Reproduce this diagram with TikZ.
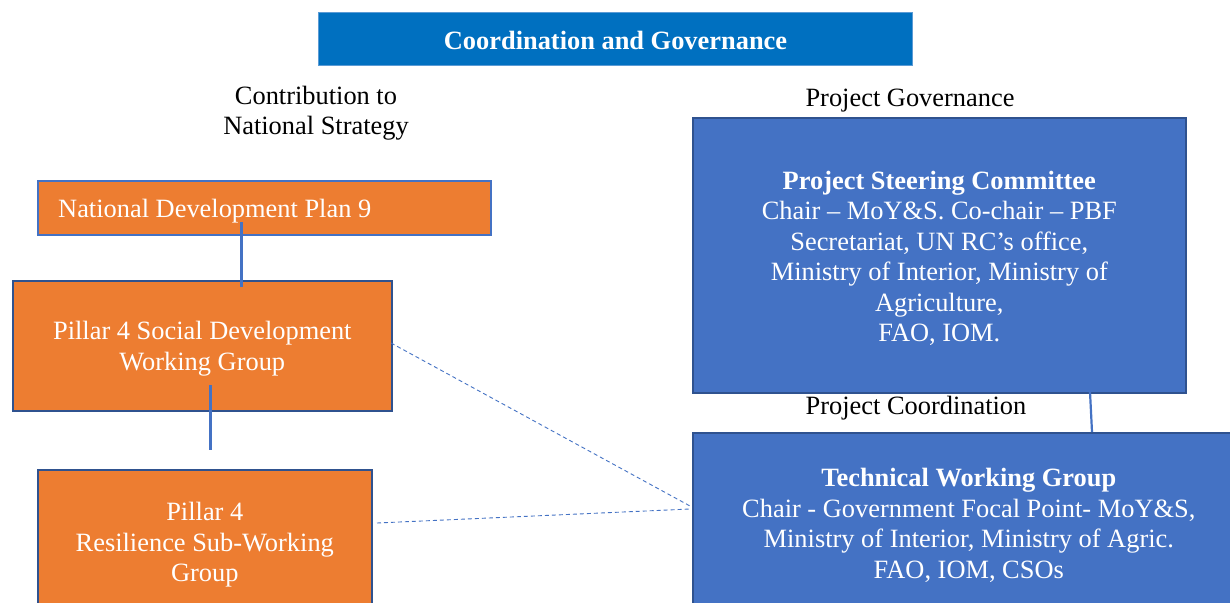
\documentclass[tikz,border=0pt]{standalone}
\usepackage{fontspec}
\setmainfont{Liberation Serif}
\definecolor{orng}{HTML}{ED7D31}
\definecolor{bl}{HTML}{4472C4}
\definecolor{dbl}{HTML}{2F528F}
\definecolor{ttl}{HTML}{0070C0}
\definecolor{ttlb}{HTML}{5B9BD5}
\begin{document}
\begin{tikzpicture}[x=1pt,y=-1pt,
  txt/.style={font=\fontsize{26.4}{30.5}\selectfont, align=center, inner sep=0pt},
  wtxt/.style={txt, text=white},
  obox/.style={draw=dbl, line width=1.6pt, fill=orng, anchor=north west, inner sep=0pt},
  bbox/.style={draw=dbl, line width=1.6pt, fill=bl, anchor=north west, inner sep=0pt},
  solidlink/.style={draw=bl, line width=3pt},
  dashlink/.style={draw=bl, line width=0.9pt, dash pattern=on 4pt off 3pt}]
\path[use as bounding box, clip] (0,0) rectangle (1230,602);
\fill[white] (0,0) rectangle (1230,602);
% title
\node[txt, draw=ttlb, line width=1pt, fill=ttl, text=white, font=\fontsize{26.4}{30.5}\selectfont\bfseries,
  minimum width=594pt, minimum height=53pt, anchor=north west] (title) at (318,12) {};
\node[wtxt, font=\fontsize{26.4}{30.5}\selectfont\bfseries] (titletext) at ([yshift=-1.5pt]title.center) {Coordination and Governance};
% headings
\node[txt] (contrib) at (316,113) {Contribution to\\National Strategy};
\node[txt] (gov) at (910,101) {Project Governance};
\node[txt] (coord) at (916,408) {Project Coordination};
% left boxes
\node[obox, draw=bl, minimum width=453pt, minimum height=54pt] (ndp) at (37,180) {};
\node[wtxt, anchor=west] (ndptext) at (58,211) {National Development Plan 9};
\node[obox, minimum width=379pt, minimum height=130pt] (soc) at (12,280) {};
\node[wtxt] (soctext) at ([yshift=-3pt]soc.center) {Pillar 4 Social Development\\Working Group};
\node[obox, minimum width=334pt, minimum height=144pt] (res) at (37,469) {};
\node[wtxt] (restext) at ([yshift=-3pt]res.center) {Pillar 4\\Resilience Sub-Working\\Group};
% right boxes
\node[bbox, minimum width=493pt, minimum height=275pt] (psc) at (692,117) {};
\node[wtxt] (psctext) at ([yshift=-3pt]psc.center) {\textbf{Project Steering Committee}\\Chair -- MoY\&S. Co-chair -- PBF\\Secretariat, UN RC’s office,\\Ministry of Interior, Ministry of\\Agriculture,\\FAO, IOM.};
\node[bbox, minimum width=552pt, minimum height=179pt] (twg) at (692,432) {};
\node[wtxt] (twgtext) at ([yshift=-3pt]twg.center) {\textbf{Technical Working Group}\\Chair - Government Focal Point- MoY\&S,\\Ministry of Interior, Ministry of Agric.\\FAO, IOM, CSOs};
% connector ends
\coordinate (a1) at (241,222);
\coordinate (a2) at (241,287);
\coordinate (b1) at (210,385);
\coordinate (b2) at (210,450);
\coordinate (c1) at (1090,392);
\coordinate (c2) at (1092,432);
\coordinate (d0) at (391,343);
\coordinate (d1) at (690,506);
\coordinate (e0) at (377,523);
\coordinate (e1) at (690,509);
\draw[solidlink] (a1) -- (a2);
\draw[solidlink] (b1) -- (b2);
\draw[draw=bl, line width=2.2pt] (c1) -- (c2);
\draw[dashlink] (d0) -- (d1);
\draw[dashlink] (e0) -- (e1);
\end{tikzpicture}
\end{document}
